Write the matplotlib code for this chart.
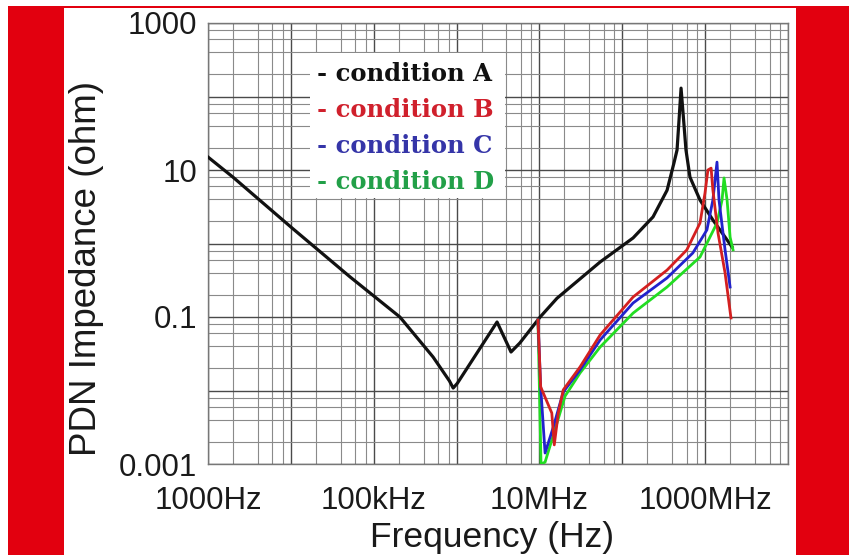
import matplotlib.pyplot as plt
from matplotlib.patches import Rectangle
from matplotlib.ticker import FixedLocator, LogLocator, NullFormatter

# Data (frequency in Hz, impedance in ohm)
freq_a = [1.0e3, 2.0e3, 1.03e4, 5.2e4, 2.07e5, 5.2e5, 8.2e5, 9.1e5, 1.02e6, 3.08e6, 4.54e6, 5.8e6,
          1.02e7, 1.63e7, 5.4e7, 1.35e8, 2.35e8, 3.47e8, 4.2e8, 4.58e8, 4.84e8, 5.12e8,
          5.41e8, 5.87e8, 6.56e8, 8.67e8, 1.24e9, 2.11e9]
imp_a = [15.0, 8.0, 1.63, 0.35, 0.10, 0.0286, 0.0135, 0.0108, 0.0125, 0.0855, 0.0334, 0.0443,
         0.10, 0.18, 0.56, 1.19, 2.3, 5.3, 12.4, 18.7, 48, 130,
         60, 18.7, 8.0, 3.9, 2.09, 0.90]

freq_b = [9.6e6, 1.035e7, 1.41e7, 1.51e7, 1.69e7, 1.94e7, 3.09e7, 5.4e7, 1.35e8, 3.47e8,
          6.0e8, 8.67e8, 9.96e8, 1.08e9, 1.18e9, 1.24e9, 1.43e9, 1.74e9, 2.05e9]
imp_b = [0.091, 0.0112, 0.00494, 0.00182, 0.00494, 0.0102, 0.0209, 0.0569, 0.187, 0.435,
         0.817, 1.9, 4.86, 10.0, 10.6, 5.35, 1.39, 0.397, 0.097]

freq_c = [9.6e6, 1.035e7, 1.17e7, 1.47e7, 1.94e7, 3.09e7, 5.4e7, 1.35e8, 3.47e8, 7.1e8,
          1.05e9, 1.24e9, 1.39e9, 1.47e9, 1.74e9, 2.0e9]
imp_c = [0.091, 0.0112, 0.00141, 0.00318, 0.00955, 0.019, 0.0487, 0.155, 0.34, 0.743,
         1.53, 3.9, 12.8, 3.9, 0.817, 0.256]

freq_d = [9.6e6, 1.045e7, 1.17e7, 1.46e7, 2.04e7, 3.09e7, 5.4e7, 1.35e8, 3.47e8, 8.67e8,
          1.39e9, 1.6e9, 1.69e9, 1.84e9, 2.0e9, 2.17e9]
imp_d = [0.091, 0.001, 0.00106, 0.0024, 0.0084, 0.0173, 0.039, 0.113, 0.256, 0.655,
         1.9, 3.9, 7.8, 3.9, 1.22, 0.82]

legend_labels = ['- condition A', '- condition B', '- condition C', '- condition D']
legend_colors = ['#111111', '#d0202c', '#3535a8', '#22a048']

xtick_vals = [1e3, 1e5, 1e7, 1e9]
xtick_labels = ['1000Hz', '100kHz', '10MHz', '1000MHz']
ytick_vals = [1e-3, 1e-1, 1e1, 1e3]
ytick_labels = ['0.001', '0.1', '10', '1000']

W, H = 849, 555
fig = plt.figure(figsize=(W / 100, H / 100), dpi=100)
fig.patch.set_facecolor('white')

red = '#e2000f'
fig.patches.append(Rectangle((8 / W, 0), 56 / W, 549 / H, transform=fig.transFigure,
                             facecolor=red, edgecolor='none', zorder=-5))
fig.patches.append(Rectangle((796 / W, 0), 53 / W, 549 / H, transform=fig.transFigure,
                             facecolor=red, edgecolor='none', zorder=-5))
fig.patches.append(Rectangle((64 / W, 547.5 / H), 732 / W, 1.6 / H, transform=fig.transFigure,
                             facecolor=red, edgecolor='none', zorder=-5))

ax = fig.add_axes([208 / W, (H - 464) / H, 580 / W, 441 / H])
ax.set_xscale('log')
ax.set_yscale('log')
ax.set_xlim(1e3, 1e10)
ax.set_ylim(1e-3, 1e3)

# grid: decades dark, 2/4/6/8 lighter
xmaj = [10.0 ** k for k in range(3, 11)]
ymaj = [10.0 ** k for k in range(-3, 4)]
ax.xaxis.set_major_locator(FixedLocator(xmaj))
ax.yaxis.set_major_locator(FixedLocator(ymaj))
ax.xaxis.set_minor_locator(LogLocator(base=10, subs=[2, 4, 6, 8], numticks=20))
ax.yaxis.set_minor_locator(LogLocator(base=10, subs=[2, 4, 6, 8], numticks=20))
ax.xaxis.set_minor_formatter(NullFormatter())
ax.yaxis.set_minor_formatter(NullFormatter())
ax.set_xticklabels([xtick_labels[xtick_vals.index(v)] if v in xtick_vals else '' for v in xmaj])
ax.set_yticklabels([ytick_labels[ytick_vals.index(v)] if v in ytick_vals else '' for v in ymaj])
ax.grid(True, which='major', color='#4a4a4a', linewidth=1.0)
ax.grid(True, which='minor', color='#8a8a8a', linewidth=0.8)
ax.set_axisbelow(True)
ax.tick_params(which='both', length=0)
ax.tick_params(axis='x', pad=16, labelsize=22.5)
ax.tick_params(axis='y', pad=8, labelsize=22.5)
for lab in ax.get_xticklabels() + ax.get_yticklabels():
    lab.set_fontfamily('Liberation Sans')
    lab.set_color('#1a1a1a')
for sp in ax.spines.values():
    sp.set_color('#777777')
    sp.set_linewidth(1.0)

# white box behind legend text
ax.add_patch(Rectangle((0.176, 0.603), 0.336, 0.329, transform=ax.transAxes,
                       facecolor='white', edgecolor='none', zorder=1))

ax.plot(freq_a, imp_a, color='#111111', lw=2.3, zorder=3, solid_joinstyle='round')
ax.plot(freq_d, imp_d, color='#22dd22', lw=2.0, zorder=4, solid_joinstyle='round')
ax.plot(freq_c, imp_c, color='#2222cc', lw=2.0, zorder=5, solid_joinstyle='round')
ax.plot(freq_b, imp_b, color='#d42020', lw=2.0, zorder=6, solid_joinstyle='round')

baselines = [81, 117, 153, 189]
for lab, col, yb in zip(legend_labels, legend_colors, baselines):
    fig.text(317 / W, 1 - yb / H, lab, color=col, fontsize=17.5, fontweight='bold',
             family='DejaVu Serif', va='baseline', ha='left')

fig.text(492 / W, 1 - 547 / H, 'Frequency (Hz)', fontsize=25.5, family='Liberation Sans',
         ha='center', va='baseline', color='#1a1a1a')
fig.text(87 / W, 1 - 268.5 / H, 'PDN Impedance (ohm)', fontsize=26.5, family='Liberation Sans',
         ha='center', va='center', rotation=90, color='#1a1a1a')

fig.savefig('out.png', dpi=100)
